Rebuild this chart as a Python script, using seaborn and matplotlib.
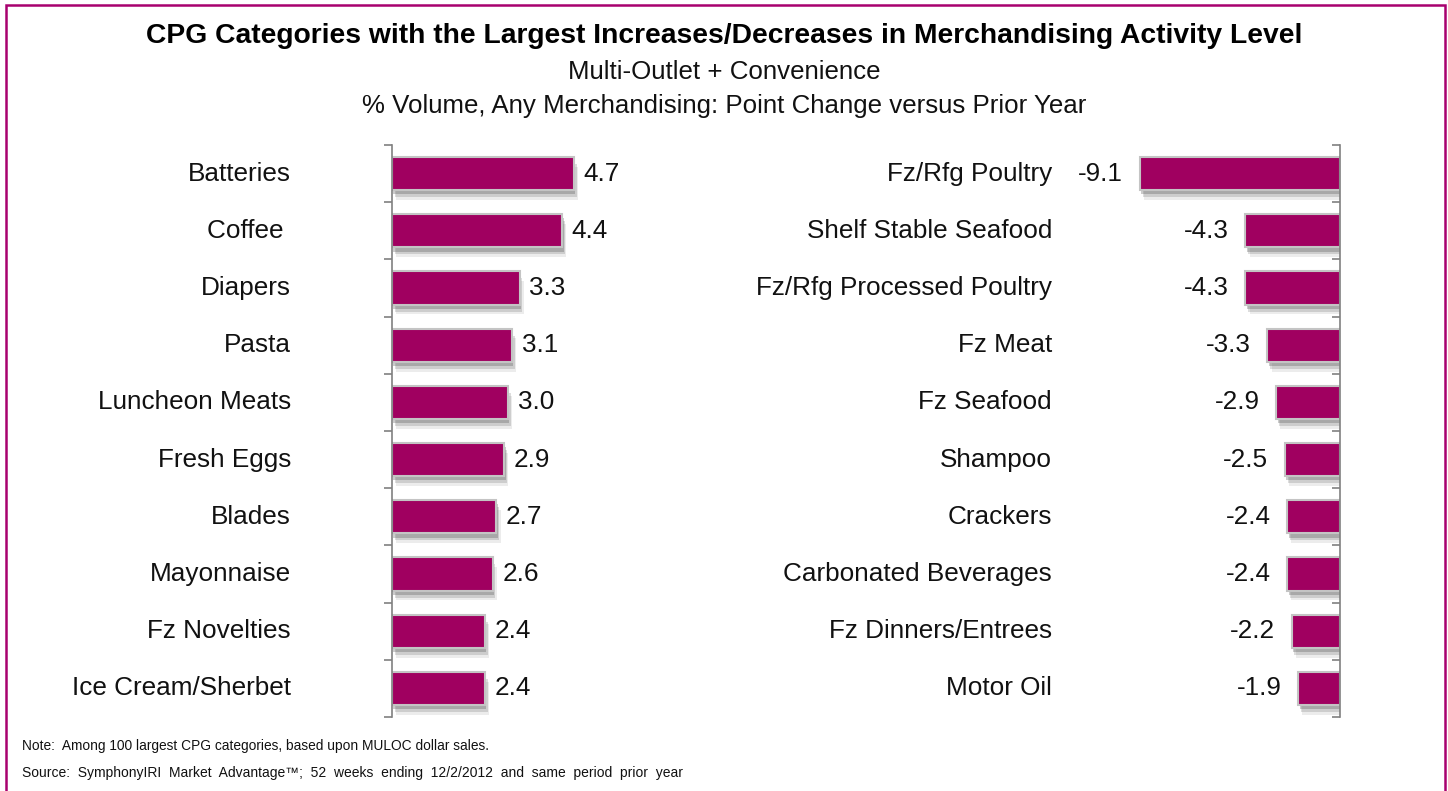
import matplotlib
matplotlib.use("Agg")
import matplotlib.pyplot as plt
import matplotlib.patheffects as pe
from matplotlib.patches import Rectangle
import seaborn as sns
import pandas as pd

# Category data: point change in % volume with any merchandising
inc_categories = ["Batteries", "Coffee ", "Diapers", "Pasta", "Luncheon Meats",
                  "Fresh Eggs", "Blades", "Mayonnaise", "Fz Novelties", "Ice Cream/Sherbet"]
inc_values = [4.7, 4.4, 3.3, 3.1, 3.0, 2.9, 2.7, 2.6, 2.4, 2.4]

dec_categories = ["Fz/Rfg Poultry", "Shelf Stable Seafood", "Fz/Rfg Processed Poultry",
                  "Fz Meat", "Fz Seafood", "Shampoo", "Crackers",
                  "Carbonated Beverages", "Fz Dinners/Entrees", "Motor Oil"]
dec_values = [-9.1, -4.3, -4.3, -3.3, -2.9, -2.5, -2.4, -2.4, -2.2, -1.9]

title = "CPG Categories with the Largest Increases/Decreases in Merchandising Activity Level"
subtitle1 = "Multi-Outlet + Convenience"
subtitle2 = "% Volume, Any Merchandising: Point Change versus Prior Year"
note = "Note:  Among 100 largest CPG categories, based upon MULOC dollar sales."
source = ("Source:  SymphonyIRI  Market  Advantage\u2122;  52  weeks  ending  "
          "12/2/2012  and  same  period  prior  year")

BAR = "#A00060"
FRAME = "#A8006E"
SPINE = "#808080"
LABEL_SIZE = 18.8

sns.set_theme(style="white")
plt.rcParams["font.family"] = ["Liberation Sans", "DejaVu Sans"]

W, H = 1448, 791
fig = plt.figure(figsize=(W / 100, H / 100), dpi=100)


def px_axes(x0, y0, x1, y1):
    return fig.add_axes([x0 / W, 1 - y1 / H, (x1 - x0) / W, (y1 - y0) / H])


ax_l = px_axes(392, 145, 624, 717)
ax_r = px_axes(1120, 145, 1340, 717)

shadow = [
    pe.SimplePatchShadow(offset=(3, -7), shadow_rgbFace="#666666", alpha=0.12),
    pe.SimplePatchShadow(offset=(2, -5), shadow_rgbFace="#555555", alpha=0.2),
    pe.SimplePatchShadow(offset=(1, -3), shadow_rgbFace="#555555", alpha=0.3),
    pe.Normal(),
]


def draw_panel(ax, cats, vals, xlim, label_pad, side):
    df = pd.DataFrame({"cat": cats, "val": vals})
    sns.barplot(data=df, y="cat", x="val", orient="h", ax=ax, color=BAR,
                saturation=1, width=0.58, edgecolor="#C4C4C4", linewidth=1.5)
    for p in ax.patches:
        p.set_path_effects(shadow)
    ax.set_xlim(*xlim)
    ax.set_ylim(len(cats) - 0.5, -0.5)
    ax.set_xlabel("")
    ax.set_ylabel("")
    ax.set_xticks([])
    for s in ax.spines.values():
        s.set_visible(False)
    spine = "left" if side == "left" else "right"
    ax.spines[spine].set_visible(True)
    ax.spines[spine].set_color(SPINE)
    ax.spines[spine].set_linewidth(1.2)
    # category boundaries as minor ticks
    ax.set_yticks([i - 0.5 for i in range(len(cats) + 1)], minor=True)
    if side == "left":
        ax.tick_params(axis="y", which="minor", left=True, direction="out",
                       length=6, width=1.2, color=SPINE)
    else:
        ax.yaxis.set_ticks_position("right")
        ax.tick_params(axis="y", which="minor", right=True, left=False, direction="in",
                       length=6, width=1.2, color=SPINE)
    ax.tick_params(axis="y", which="major", length=0, left=False, right=False,
                   labelleft=False, labelright=False)
    # category names
    for i, c in enumerate(cats):
        ax.annotate(c, xy=(0, i), xycoords=("axes fraction", "data"),
                    xytext=(-label_pad, 0), textcoords="offset points",
                    ha="right", va="center", fontsize=LABEL_SIZE, color="#111111")
    # value labels
    for i, v in enumerate(vals):
        if v >= 0:
            ax.annotate(f"{v:.1f}", xy=(v, i), xytext=(7, 0), textcoords="offset points",
                        ha="left", va="center", fontsize=LABEL_SIZE, color="#111111")
        else:
            ax.annotate(f"{v:.1f}", xy=(v, i), xytext=(-12, 0), textcoords="offset points",
                        ha="right", va="center", fontsize=LABEL_SIZE, color="#111111")


draw_panel(ax_l, inc_categories, inc_values, (0, 6), (392 - 291) / 1.389, "left")
draw_panel(ax_r, dec_categories, dec_values, (-10, 0), (1120 - 1052) / 1.389, "right")

# headings
fig.text(0.5, 1 - 36 / H, title, ha="center", va="center", fontsize=20.3,
         fontweight="bold", color="#000000")
fig.text(0.5, 1 - 72 / H, subtitle1, ha="center", va="center", fontsize=18.6, color="#111111")
fig.text(0.5, 1 - 106 / H, subtitle2, ha="center", va="center", fontsize=18.6, color="#111111")

# footnotes
fig.text(22 / W, 1 - 746 / H, note, ha="left", va="center", fontsize=9.9, color="#111111")
fig.text(22 / W, 1 - 773 / H, source, ha="left", va="center", fontsize=10, color="#111111")

# outer frame
fig.patches.append(Rectangle((6 / W, -0.01), (1445 - 6) / W, 1 - 5 / H + 0.01,
                             transform=fig.transFigure, fill=False,
                             edgecolor=FRAME, linewidth=1.8))

fig.savefig("out.png", dpi=100)
